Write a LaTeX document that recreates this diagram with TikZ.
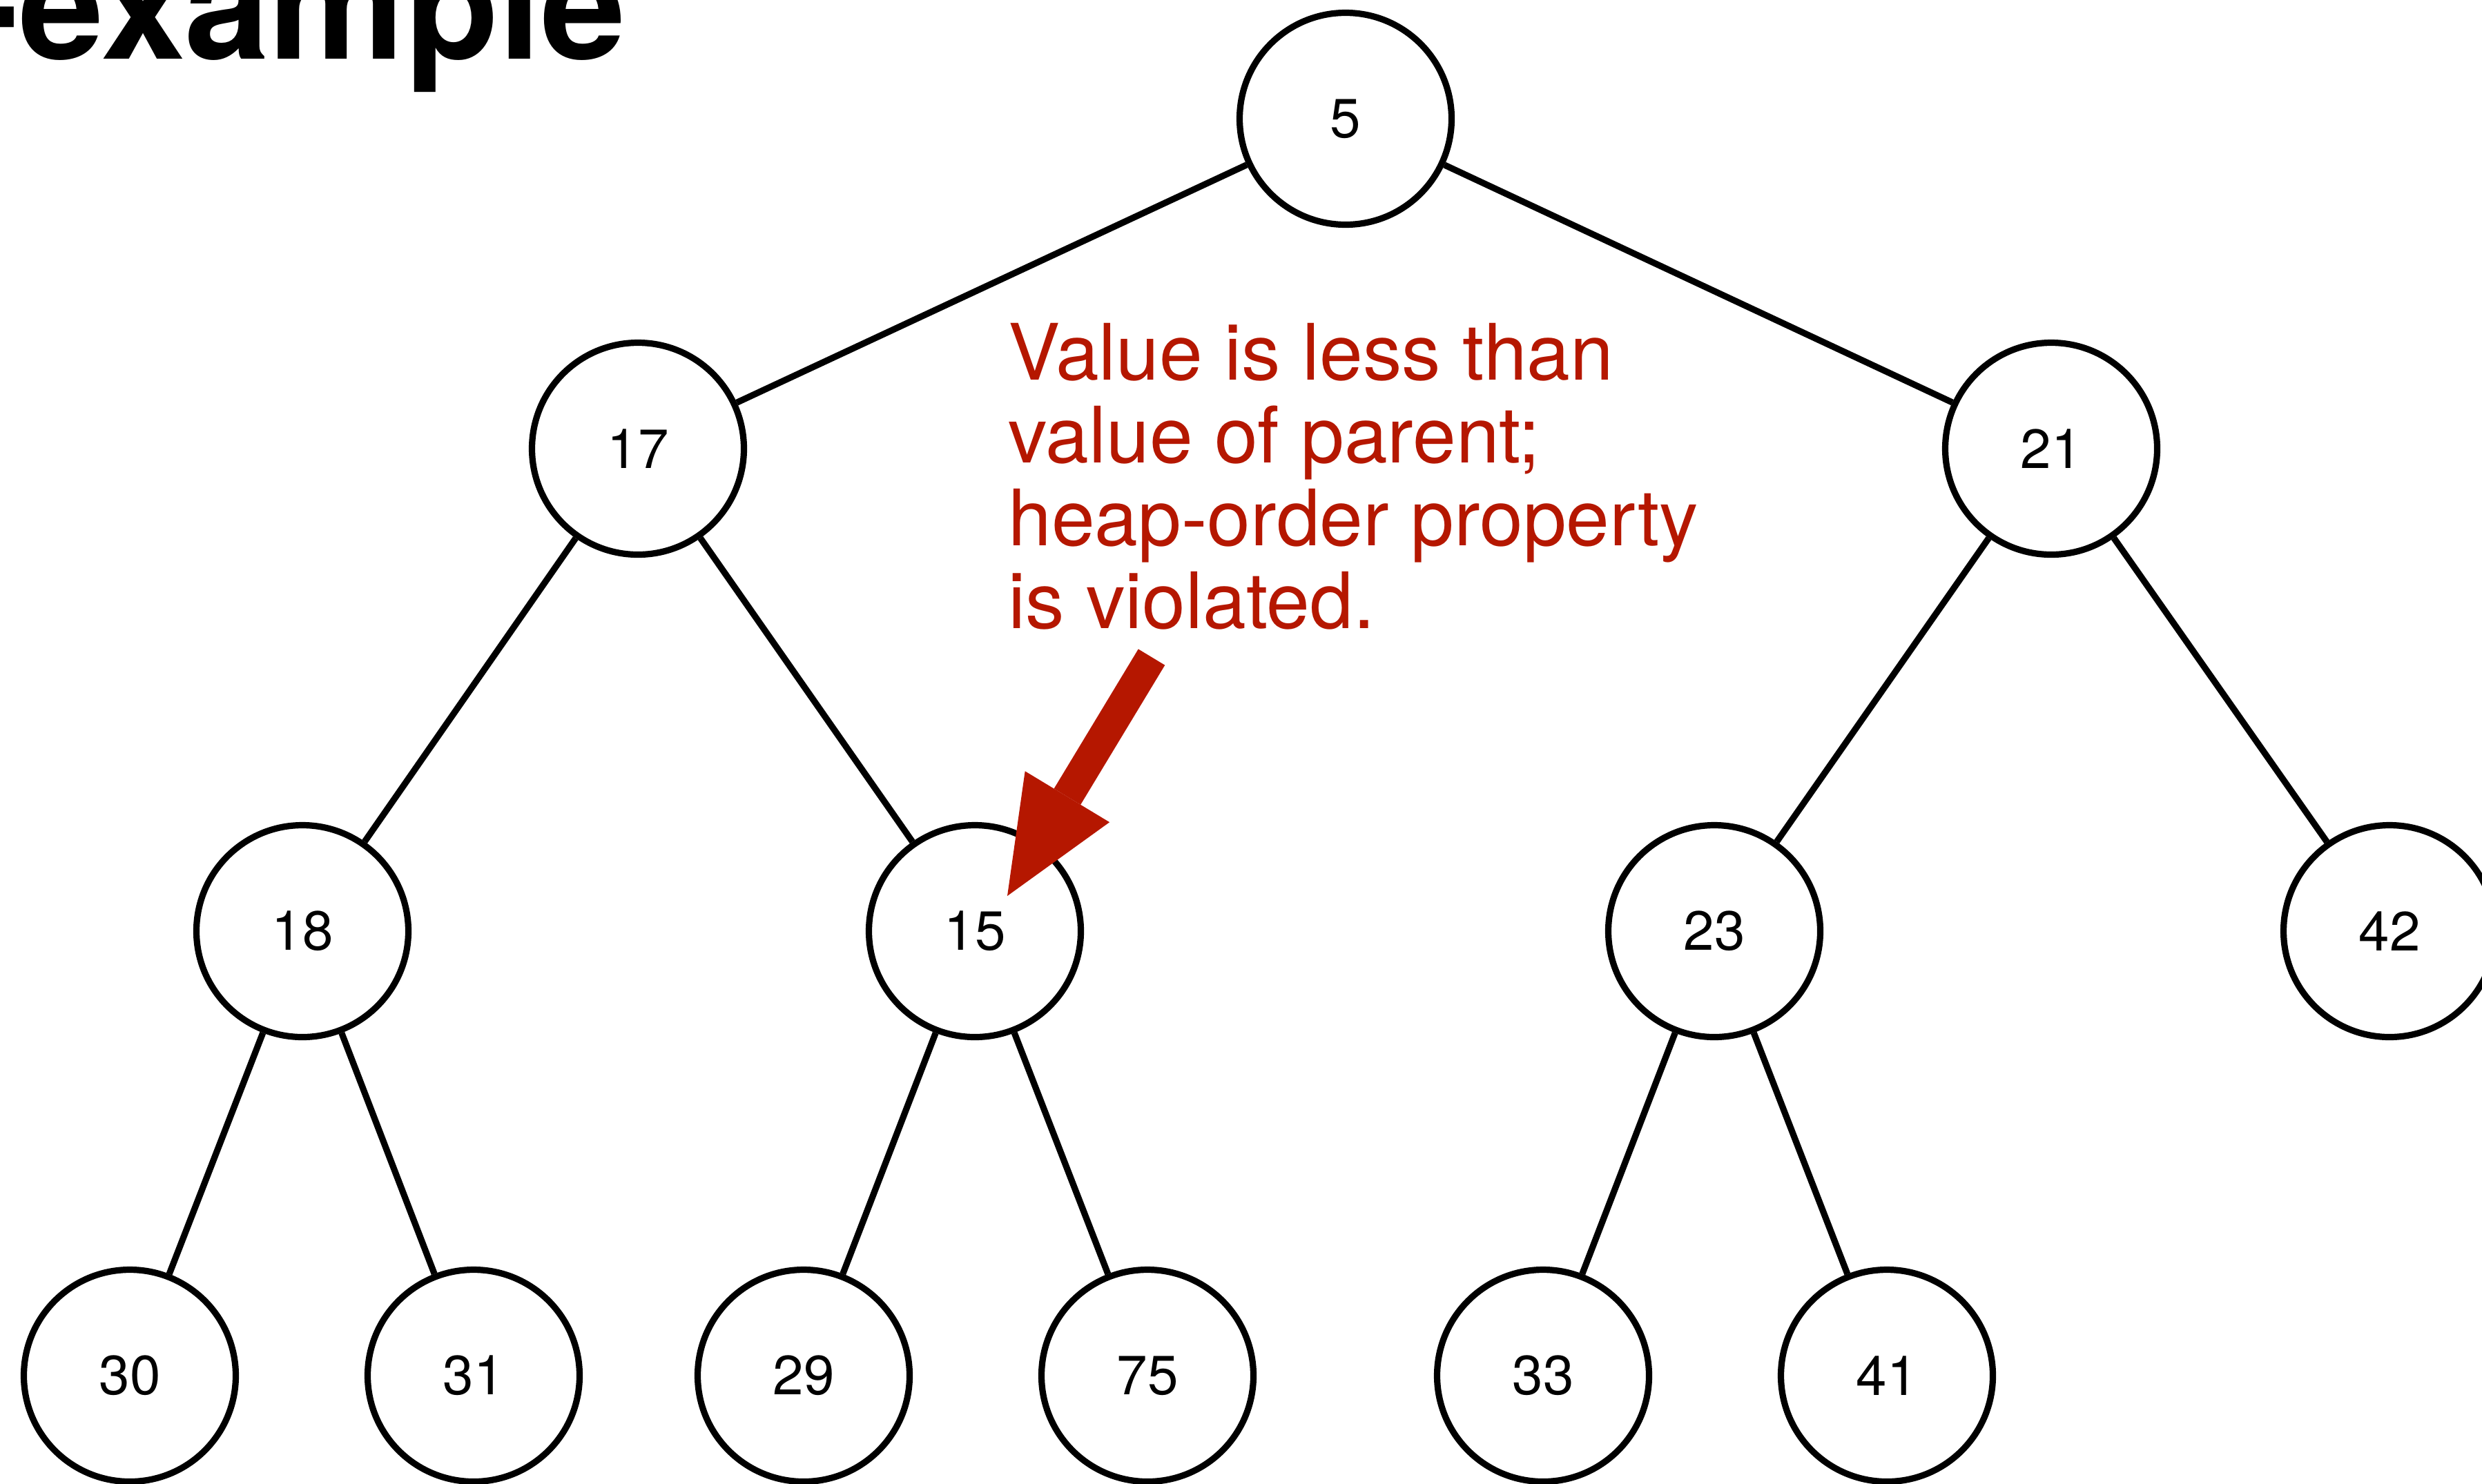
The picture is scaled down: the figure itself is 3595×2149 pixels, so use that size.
\documentclass[tikz,border=0pt]{standalone}
\usepackage{fontspec}
\setmainfont{TeX Gyre Heros}
\usetikzlibrary{arrows.meta}
\definecolor{alertred}{RGB}{181,23,0}
\begin{document}
\begin{tikzpicture}[x=0.5pt,y=-0.5pt,
  heapnode/.style={circle, draw=black, line width=4.6pt, fill=white,
    minimum size=153.5pt, inner sep=0pt,
    font=\fontsize{40pt}{48pt}\selectfont},
  treeedge/.style={line width=4.6pt, draw=black},
  note/.style={text=alertred, align=left, inner sep=0pt,
    font=\fontsize{56.4pt}{60pt}\selectfont},
  pointer/.style={draw=alertred, line width=22.5pt,
    -{Triangle[width=71.5pt, length=84pt, line width=0pt, fill=alertred]}}]

% page frame
\fill[white] (0,0) rectangle (3595,2149);
\useasboundingbox (0,0) rectangle (3595,2149);

% heading (cut off at the page edge)
\node[anchor=base east, inner sep=0pt,
      font=\fontsize{110.5pt}{120pt}\selectfont\bfseries] (title) at (907,85) {-example};

% heap nodes
\node[heapnode] (n5)  at (1949,172)  {5};
\node[heapnode] (n17) at (924,650)   {17};
\node[heapnode] (n21) at (2971,650)  {21};
\node[heapnode] (n18) at (438,1349)  {18};
\node[heapnode] (n15) at (1412,1349) {15};
\node[heapnode] (n23) at (2483,1349) {23};
\node[heapnode] (n42) at (3461,1349) {42};
\node[heapnode] (n30) at (188,1993)  {30};
\node[heapnode] (n31) at (686,1993)  {31};
\node[heapnode] (n29) at (1164,1993) {29};
\node[heapnode] (n75) at (1662,1993) {75};
\node[heapnode] (n33) at (2235,1993) {33};
\node[heapnode] (n41) at (2733,1993) {41};

% tree edges
\draw[treeedge] (n5) -- (n17);
\draw[treeedge] (n5) -- (n21);
\draw[treeedge] (n17) -- (n18);
\draw[treeedge] (n17) -- (n15);
\draw[treeedge] (n21) -- (n23);
\draw[treeedge] (n21) -- (n42);
\draw[treeedge] (n18) -- (n30);
\draw[treeedge] (n18) -- (n31);
\draw[treeedge] (n15) -- (n29);
\draw[treeedge] (n15) -- (n75);
\draw[treeedge] (n23) -- (n33);
\draw[treeedge] (n23) -- (n41);

% annotation
\node[note, anchor=north west] (remark) at (1460,468)
  {Value is less than\\value of parent;\\heap-order property\\is violated.};
\coordinate (tail) at (1668,952);
\coordinate (tip) at (1459,1298);
\draw[pointer] (tail) -- (tip);

\end{tikzpicture}
\end{document}
